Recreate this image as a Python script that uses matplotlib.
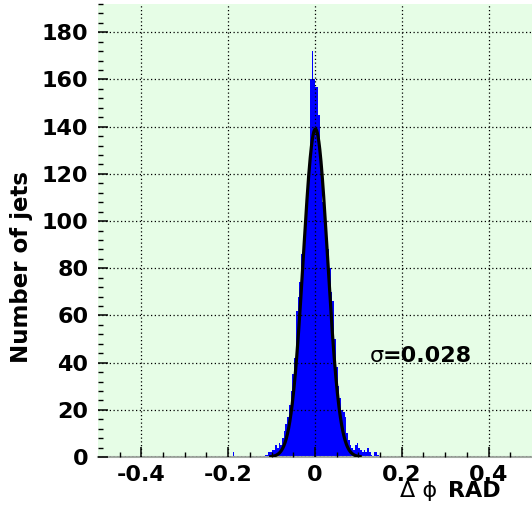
import matplotlib.pyplot as plt
import numpy as np

plt.rcParams['font.family'] = ['DejaVu Sans']

# histogram: bin width 0.004, first bin starts at -0.116
bin_w = 0.004
first_edge = -0.116
counts = [1, 1, 2, 2, 3, 3, 5, 4, 6, 5,          # -0.116 .. -0.076
          8, 11, 14, 17, 22, 28, 35, 42, 62, 68,  # -0.076 .. -0.036
          74, 86, 93, 102, 112, 122, 160, 172, 160, 157,  # -0.036 .. 0.004
          157, 145, 122, 108, 100, 97, 88, 80, 70, 66,    # 0.004 .. 0.044
          50, 38, 30, 25, 20, 19, 17, 10, 7, 5,           # 0.044 .. 0.084
          4, 3, 5, 6, 4, 3, 2, 3, 2, 4,                   # 0.084 .. 0.124
          2, 1, 0, 2, 2, 1]                               # 0.124 .. 0.148
# isolated entries far out in the tail
outlier_x = [-0.188]
outlier_n = [2]

# gaussian fit parameters
fit_amp = 139.0
fit_mean = 0.001
fit_sigma = 0.028
fit_range = (-0.102, 0.104)

fig = plt.figure(figsize=(5.32, 5.12), dpi=100)
ax = fig.add_axes([0.1842, 0.1074, 0.8158, 0.8848])
ax.set_facecolor('#e6fde6')

edges = first_edge + bin_w * np.arange(len(counts) + 1)
ax.stairs(counts, edges, fill=True, color='#0000ff', zorder=2)
for ox, on in zip(outlier_x, outlier_n):
    ax.bar(ox, on, width=bin_w, color='#0000ff', zorder=2)

xf = np.linspace(fit_range[0], fit_range[1], 300)
yf = fit_amp * np.exp(-0.5 * ((xf - fit_mean) / fit_sigma) ** 2)
ax.plot(xf, yf, color='black', lw=2.3, zorder=4)

ax.set_xlim(-0.5, 0.5)
ax.set_ylim(0, 192)
ax.set_xticks([-0.4, -0.2, 0, 0.2, 0.4])
ax.set_xticklabels(['-0.4', '-0.2', '0', '0.2', '0.4'])
ax.set_xticks(np.arange(-0.45, 0.5, 0.05), minor=True)
ax.set_yticks(np.arange(0, 181, 20))
ax.set_yticks(np.arange(0, 193, 4), minor=True)

ax.grid(True, which='major', color='black', ls=(0, (1, 2)), lw=0.9, zorder=3)
ax.set_axisbelow(False)

for s in ['top', 'right', 'left']:
    ax.spines[s].set_visible(False)
ax.spines['bottom'].set_color('#a3aaa3')
ax.spines['bottom'].set_linewidth(1.5)

ax.tick_params(which='both', direction='in', top=False, right=False, color='black')
ax.tick_params(which='major', length=7, width=1.1, labelsize=16)
ax.tick_params(axis='y', which='major', pad=7)
ax.tick_params(axis='x', which='major', pad=6)
ax.tick_params(which='minor', length=3.5, width=1)
for lab in ax.get_xticklabels() + ax.get_yticklabels():
    lab.set_fontweight('bold')

ax.set_ylabel('Number of jets', fontsize=16.5, fontweight='bold')
ax.yaxis.set_label_coords(-0.15, 0.42)

ax.text(0.126, 43, '\u03c3', fontsize=16, va='center', ha='left')
ax.text(0.155, 43, '=0.028', fontsize=16, fontweight='bold', va='center', ha='left')

fig.text(0.752, 0.022, '\u0394 \u03d5', fontsize=16, va='bottom', ha='left')
fig.text(0.842, 0.022, 'RAD', fontsize=16, fontweight='bold', va='bottom', ha='left')

fig.savefig('out.png', dpi=100)
